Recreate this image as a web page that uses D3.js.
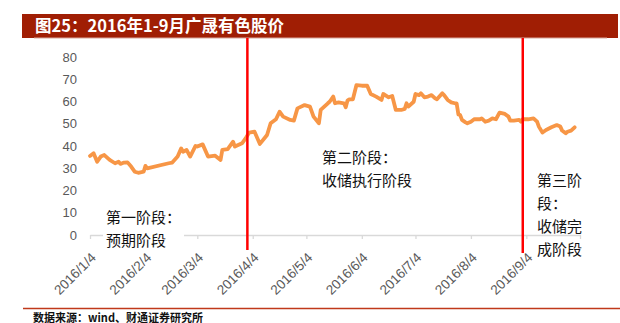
<!DOCTYPE html>
<html><head><meta charset="utf-8">
<script src="https://cdn.jsdelivr.net/npm/d3@7"></script>
<style>
html,body{margin:0;padding:0;background:#fff;}
svg{display:block;}
</style></head>
<body>
<svg id="chart" width="620" height="323"></svg>
<script>
// ---- data ----
const title = "图25：2016年1-9月广晟有色股价";
const source = "数据来源：wind、财通证券研究所";
const dates = ["2016-01-04","2016-01-06","2016-01-08","2016-01-10","2016-01-12","2016-01-15","2016-01-18","2016-01-20","2016-01-21","2016-01-23","2016-01-25","2016-01-27","2016-01-29","2016-01-31","2016-02-03","2016-02-04","2016-02-05","2016-02-17","2016-02-19","2016-02-22","2016-02-24","2016-02-25","2016-02-27","2016-02-29","2016-03-03","2016-03-04","2016-03-07","2016-03-10","2016-03-14","2016-03-17","2016-03-18","2016-03-21","2016-03-24","2016-03-25","2016-03-29","2016-03-31","2016-04-02","2016-04-05","2016-04-08","2016-04-12","2016-04-14","2016-04-17","2016-04-19","2016-04-21","2016-04-25","2016-04-27","2016-04-29","2016-05-03","2016-05-06","2016-05-08","2016-05-11","2016-05-12","2016-05-16","2016-05-17","2016-05-19","2016-05-20","2016-05-22","2016-05-25","2016-05-26","2016-05-27","2016-05-28","2016-05-30","2016-06-01","2016-06-04","2016-06-07","2016-06-09","2016-06-12","2016-06-15","2016-06-16","2016-06-19","2016-06-21","2016-06-23","2016-06-26","2016-06-28","2016-06-29","2016-06-30","2016-07-03","2016-07-04","2016-07-06","2016-07-07","2016-07-09","2016-07-11","2016-07-13","2016-07-15","2016-07-16","2016-07-19","2016-07-20","2016-07-22","2016-07-24","2016-07-26","2016-07-27","2016-07-28","2016-07-29","2016-07-30","2016-08-01","2016-08-02","2016-08-04","2016-08-06","2016-08-09","2016-08-10","2016-08-12","2016-08-14","2016-08-16","2016-08-18","2016-08-20","2016-08-23","2016-08-25","2016-08-26","2016-08-28","2016-08-31","2016-09-01","2016-09-02","2016-09-05","2016-09-08","2016-09-10","2016-09-11","2016-09-13","2016-09-15","2016-09-18","2016-09-21","2016-09-23","2016-09-24","2016-09-26","2016-09-27","2016-09-29","2016-10-01"];
const prices = [35.6,36.8,33.0,35.3,36.0,33.8,32.3,33.0,32.0,32.6,32.7,30.8,28.5,28.0,28.5,31.1,30.0,32.3,32.6,35.3,39.0,37.5,38.3,35.3,40.1,39.8,40.8,35.3,35.7,33.8,38.3,38.7,42.0,39.8,41.3,43.5,46.1,46.5,41.0,45.0,50.3,52.1,55.5,53.3,51.8,51.5,57.0,58.5,57.8,53.3,50.3,56.3,59.3,60.0,62.3,59.3,59.7,59.3,57.5,60.5,61.1,61.1,67.5,67.2,67.2,63.5,62.3,60.8,63.5,62.0,62.6,56.3,56.3,56.8,59.3,57.8,60.0,63.5,63.0,63.8,62.0,62.3,63.0,61.5,61.1,63.8,63.0,60.8,59.7,59.3,59.3,54.3,54.0,51.8,50.7,50.3,51.0,52.2,52.1,52.5,51.0,51.5,52.5,52.1,55.1,54.5,53.3,51.5,51.5,51.8,51.0,52.2,52.1,52.5,51.0,48.8,46.1,47.3,48.5,49.5,48.8,47.0,45.8,46.5,47.0,48.5];
const yTicks = [0,10,20,30,40,50,60,70,80];
const xTickLabels = ["2016/1/4","2016/2/4","2016/3/4","2016/4/4","2016/5/4","2016/6/4","2016/7/4","2016/8/4","2016/9/4"];
const xAxisEnd = "2016/10/4";
const stageDates = ["2016-04-01","2016-09-02"];
const stageTexts = [["第一阶段：","预期阶段"],["第二阶段：","收储执行阶段"],["第三阶","段：","收储完","成阶段"]];

// ---- setup ----
const svg = d3.select("#chart");
const parseISO = d3.timeParse("%Y-%m-%d");
const parseSlash = d3.timeParse("%Y/%m/%d");
const data = dates.map((d,i)=>({date:parseISO(d), v:prices[i]}));
const tickDates = xTickLabels.map(parseSlash);
const endDate = parseSlash(xAxisEnd);

const x = d3.scaleTime().domain([tickDates[0], endDate]).range([90, 580]);
const y = d3.scaleLinear().domain([0, 80]).range([235, 57.3]);

const grey = "#595959";
const cjk = "'Noto Sans CJK SC', sans-serif";
const latin = "'Liberation Sans', Arial, sans-serif";

// title bar
svg.append("rect").attr("x",22).attr("y",14).attr("width",596).attr("height",24).attr("fill","#A01E04");
svg.append("line").attr("x1",34).attr("x2",607).attr("y1",38).attr("y2",38).attr("stroke","#D9A79C").attr("stroke-width",1);
svg.append("text").attr("x",35).attr("y",26).attr("dy","0.36em")
  .attr("fill","#fff").attr("font-family",cjk).attr("font-weight","bold").attr("font-size",16.5)
  .text(title);

// y axis labels
svg.append("g").selectAll("text").data(yTicks).join("text")
  .attr("x",77).attr("y",d=>y(d)).attr("dy","0.35em").attr("text-anchor","end")
  .attr("fill",grey).attr("font-family",latin).attr("font-size",13)
  .text(d=>d);

// x axis
const xAxis = d3.axisBottom(x).tickValues(tickDates.concat([endDate]))
  .tickFormat((d,i)=> i < xTickLabels.length ? xTickLabels[i] : "")
  .tickSizeInner(4).tickSizeOuter(0);
const gx = svg.append("g").attr("transform",`translate(0,${y(0)})`).call(xAxis);
gx.select(".domain").attr("stroke","#D9D9D9").attr("stroke-width",1.3);
gx.selectAll(".tick line").attr("stroke","#D9D9D9").attr("stroke-width",1.3);
gx.selectAll(".tick text")
  .attr("fill",grey).attr("font-family",latin).attr("font-size",13.5)
  .attr("text-anchor","end").attr("y",0).attr("dy","0.35em")
  .attr("transform","translate(3,20) rotate(-45)");

// price line
const line = d3.line().x(d=>x(d.date)).y(d=>y(d.v));
svg.append("path").datum(data).attr("d",line)
  .attr("fill","none").attr("stroke","#F79646").attr("stroke-width",3.8)
  .attr("stroke-linejoin","round").attr("stroke-linecap","round");

// stage divider lines
const stageBottoms = [250, 253];
stageDates.forEach((d,i)=>{
  const xx = x(parseISO(d));
  svg.append("line").attr("x1",xx).attr("x2",xx).attr("y1",38).attr("y2",stageBottoms[i])
    .attr("stroke","#FF0000").attr("stroke-width",2.5);
});

// stage texts
const stagePos = [{x:106,y:217.5,bg:true},{x:322,y:157.5,bg:false},{x:537,y:181,bg:false}];
stageTexts.forEach((lines,i)=>{
  const p = stagePos[i];
  const g = svg.append("g");
  const t = g.append("text").attr("font-family",cjk).attr("font-size",15).attr("fill","#111");
  lines.forEach((s,j)=>{
    t.append("tspan").attr("x",p.x).attr("y",p.y + j*23).attr("dy","0.36em").text(s);
  });
  if (p.bg) {
    const b = t.node().getBBox();
    g.insert("rect","text").attr("x",b.x-3).attr("y",b.y-2).attr("width",b.width+6).attr("height",b.height+4).attr("fill","#fff");
  }
});

// footer
svg.append("line").attr("x1",23).attr("x2",620).attr("y1",308.5).attr("y2",308.5).attr("stroke","#C0391B").attr("stroke-width",1.3);
svg.append("text").attr("x",33).attr("y",321.5).attr("fill","#111").attr("font-family",cjk).attr("font-size",11).attr("font-weight","bold").text(source);
</script>
</body></html>
